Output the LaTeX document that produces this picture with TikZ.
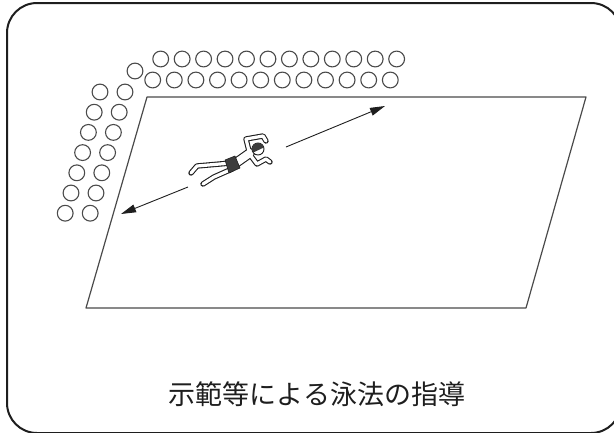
\documentclass[tikz,border=0pt]{standalone}
\usepackage{fontspec}
\newfontfamily\cjk{Noto Sans CJK JP}
\usetikzlibrary{arrows.meta}
\definecolor{ink}{HTML}{1E1E1E}
\definecolor{pencil}{HTML}{4A4A4A}
\definecolor{trunks}{HTML}{3C3C3C}

\begin{document}
\begin{tikzpicture}[x=1pt,y=-1pt,line join=round,
  seat/.style={pencil,line width=1.1pt},
  swim/.style={ink,line width=.9pt,-{Triangle[length=15pt,width=8pt]}}]
\useasboundingbox (0,0) rectangle (614,432);
\clip (0,0) rectangle (614,432);
\draw[ink,line width=2pt,rounded corners=30pt] (7,3) rectangle (621,433);
% pool
\draw[pencil,line width=1.2pt] (147,97) -- (586,97) -- (526,308) -- (86,308) -- cycle;
% pupils watching from the side
\foreach \i in {0,...,11} {
  \draw[seat] (160.7+21.45*\i,59) circle (7.9pt);
  \draw[seat] (152.7+21.6*\i,80) circle (7.9pt);
}
\draw[seat] (135,71) circle (7.9pt);
\foreach \i in {0,...,6} {
  \draw[seat] (100-5.8*\i,92+20.2*\i) circle (7.9pt);
  \draw[seat] (125-5.8*\i,92+20.2*\i) circle (7.9pt);
}
% swimmer: black pass, then white pass for the outlined limbs
\foreach \c/\w/\t in {ink/5.4/10,white/3.2/7.8} {
  \draw[\c,line width=\t pt,line cap=round] (250,153) -- (233,165);
  \draw[\c,line width=\w pt,line cap=round]
    (231,163) -- (197,166) -- (191,173)
    (232,169) -- (214,177) -- (203,184)
    (249,151) -- (246,139) -- (263,136) -- (266,141)
    (251,156) -- (257,164) -- (266,159) -- (270,162);
}
\filldraw[fill=trunks,draw=ink,line width=.6pt]
  (225,160) -- (235,156) -- (240,168) -- (229,173) -- cycle;
\filldraw[fill=white,draw=ink,line width=.9pt] (258,149) circle (6pt);
\begin{scope}
  \clip (258,149) circle (6pt);
  \fill[trunks] (250,154) -- (267,146) -- (267,140) -- (250,140) -- cycle;
\end{scope}
\coordinate (fwd) at (286,147);
\coordinate (fwdwall) at (385,106);
\coordinate (back) at (188,187);
\coordinate (backwall) at (121,214);
\draw[swim] (fwd) -- (fwdwall);
\draw[swim] (back) -- (backwall);
\node[font=\cjk\fontsize{27pt}{30pt}\selectfont,ink] (caption) at (317,394) {示範等による泳法の指導};
\end{tikzpicture}
\end{document}
